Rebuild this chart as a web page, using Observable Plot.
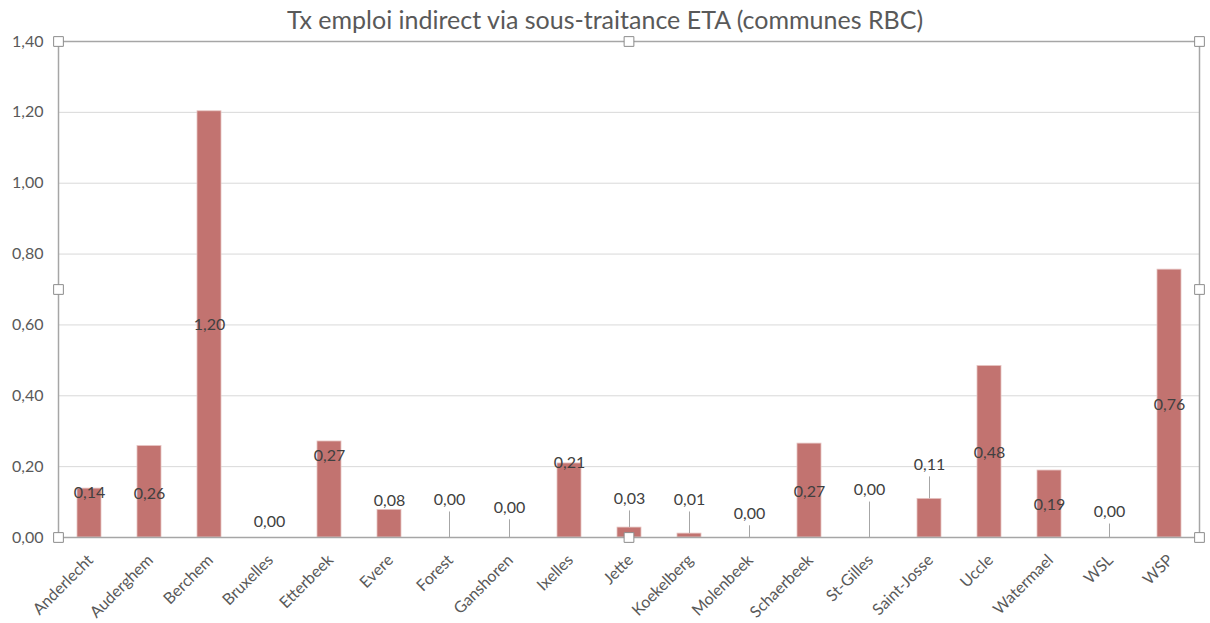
<!DOCTYPE html>
<html>
<head>
<meta charset="utf-8">
<script src="https://cdn.jsdelivr.net/npm/d3@7"></script>
<script src="https://cdn.jsdelivr.net/npm/@observablehq/plot@0.6"></script>
<style>
  body { margin: 0; background: #fff; }
  #title { height: 32px; box-sizing: border-box; padding-top: 5px; text-align: center; white-space: nowrap;
           font-family: Lato, sans-serif; font-size: 25px; line-height: 28px; color: #595959; width: 1210px; }
</style>
</head>
<body>
<div id="title">Tx emploi indirect via sous-traitance ETA (communes RBC)</div>
<div id="chart"></div>
<script>
const communes = ["Anderlecht","Auderghem","Berchem","Bruxelles","Etterbeek","Evere","Forest","Ganshoren","Ixelles","Jette","Koekelberg","Molenbeek","Schaerbeek","St-Gilles","Saint-Josse","Uccle","Watermael","WSL","WSP"];
const values   = [0.138, 0.258, 1.203, 0, 0.271, 0.078, 0, 0, 0.209, 0.028, 0.011, 0, 0.265, 0, 0.109, 0.484, 0.189, 0, 0.756];
// where each data label sits (in value units)
const labelAt  = [0.127, 0.124, 0.601, 0.045, 0.231, 0.102, 0.107, 0.085, 0.212, 0.110, 0.107, 0.068, 0.130, 0.135, 0.206, 0.240, 0.093, 0.073, 0.375];
const withLeader = ["Forest","Ganshoren","Jette","Koekelberg","Molenbeek","St-Gilles","Saint-Josse","WSL"];
const yTicks = [0, 0.2, 0.4, 0.6, 0.8, 1.0, 1.2, 1.4];

const data = communes.map((c, i) => ({commune: c, value: values[i], labelY: labelAt[i], leader: withLeader.includes(c)}));
const fmt = d3.formatLocale({decimal: ",", thousands: ".", grouping: [3], currency: ["", "€"]}).format(".2f");

const anchors = ["top-left","top","top-right","left","right","bottom-left","bottom","bottom-right"];

const chart = Plot.plot({
  width: 1210,
  height: 591,
  marginTop: 9,
  marginBottom: 86,
  marginLeft: 58,
  marginRight: 11,
  style: {fontFamily: "Lato, sans-serif", fontSize: "16px", color: "#595959", background: "#fff"},
  x: {domain: communes, paddingInner: 0.6, paddingOuter: 0.3, label: null},
  y: {domain: [0, 1.4], label: null},
  marks: [
    Plot.gridY(yTicks.slice(1, -1), {stroke: "#d9d9d9", strokeOpacity: 1}),
    Plot.barY(data, {x: "commune", y: "value", fill: "#c27370", stroke: "#e6c3c1", strokeWidth: 0.8}),
    Plot.ruleX(data.filter(d => d.leader), {x: "commune", y1: "value", y2: d => d.labelY - 0.035, stroke: "#a6a6a6", strokeWidth: 1}),
    Plot.text(data, {x: "commune", y: "labelY", text: d => fmt(d.value), fill: "#404040", fontSize: 16}),
    Plot.axisY({ticks: yTicks, tickFormat: fmt, tickSize: 0, tickPadding: 15, fontSize: 16, label: null}),
    Plot.axisX({tickRotate: -45, tickSize: 0, tickPadding: 15, dy: 5, dx: 1, fontSize: 16, label: null}),
    Plot.frame({stroke: "#a6a6a6", strokeWidth: 1.5}),
    ...anchors.map(a => Plot.dot([0], {frameAnchor: a, symbol: "square", r: 5.5, fill: "white", stroke: "#8c8c8c", strokeWidth: 1}))
  ]
});
document.getElementById("chart").appendChild(chart);
</script>
</body>
</html>
